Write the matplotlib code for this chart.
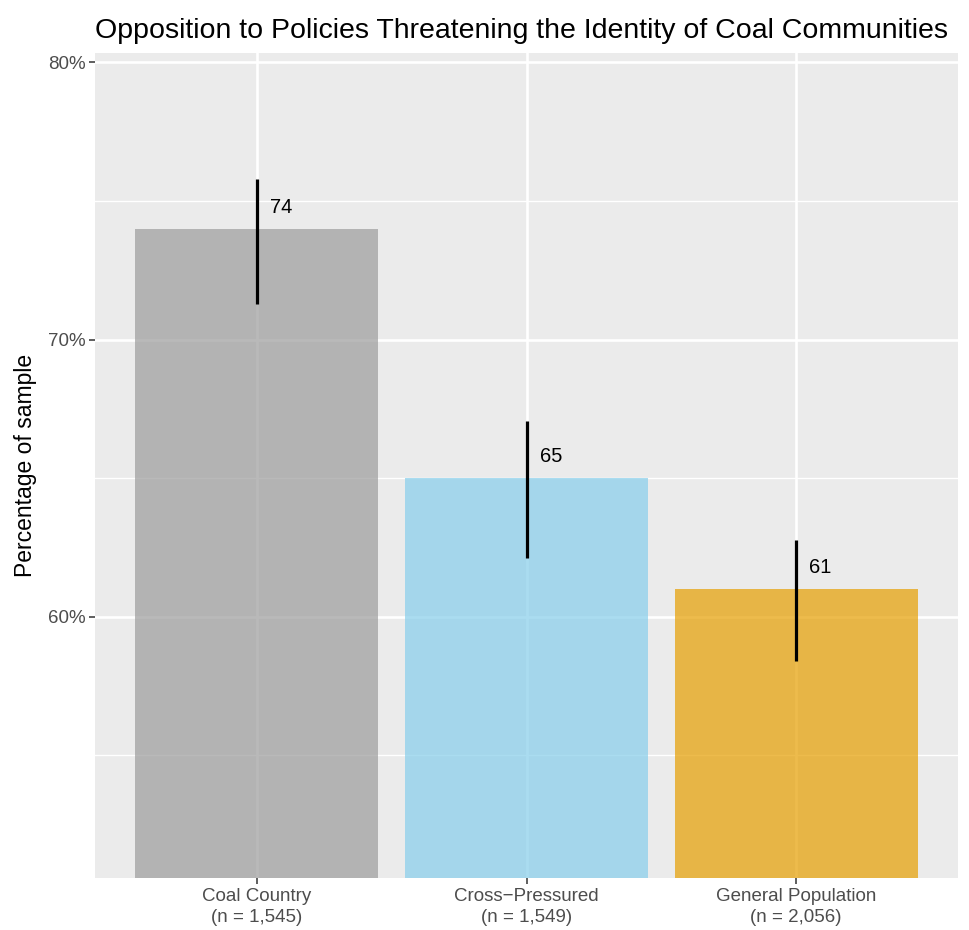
import numpy as np
import matplotlib
matplotlib.use("Agg")
import matplotlib.pyplot as plt

groups = ["Coal Country\n(n = 1,545)", "Cross\u2212Pressured\n(n = 1,549)", "General Population\n(n = 2,056)"]
pct = [74.0, 65.0, 61.0]
ci_low = [71.3, 62.1, 58.4]
ci_high = [75.8, 67.05, 62.75]
labels = ["74", "65", "61"]
colors = ["#9c9c9c", "#87ceeb", "#e69f00"]

plt.rcParams["font.family"] = ["Liberation Sans", "DejaVu Sans"]

fig = plt.figure(figsize=(9.69, 9.30), dpi=100)
ax = fig.add_axes([95 / 969, 1 - 878 / 930, (958 - 95) / 969, (878 - 53) / 930])
ax.set_facecolor("#ebebeb")

x = np.arange(1, len(groups) + 1)

# grid under bars (bars are semi transparent like in ggplot)
for v in [55, 65, 75]:
    ax.axhline(v, color="white", lw=1.0, zorder=0.5)
for v in [60, 70, 80]:
    ax.axhline(v, color="white", lw=1.9, zorder=0.5)
for xi in x:
    ax.axvline(xi, color="white", lw=1.9, zorder=0.5)

ax.bar(x, pct, width=0.9, color=colors, alpha=0.7, zorder=1)
ax.vlines(x, ci_low, ci_high, color="black", lw=2.3, zorder=2)
for xi, p, lab in zip(x, pct, labels):
    ax.text(xi + 0.09, p + 0.77, lab, ha="center", va="center", fontsize=14.5, color="black", zorder=3)

ax.set_xlim(0.4, 3.6)
ax.set_ylim(50.57, 80.34)
ax.set_yticks([60, 70, 80])
ax.set_yticklabels(["60%", "70%", "80%"])
ax.set_xticks(x)
ax.set_xticklabels(groups, linespacing=1.3)
ax.tick_params(axis="both", colors="#333333", length=4, width=1.1, labelsize=13.5, labelcolor="#4d4d4d", pad=3)
for s in ax.spines.values():
    s.set_visible(False)

ax.set_ylabel("Percentage of sample", fontsize=16.5, labelpad=8)
ax.set_title("Opposition to Policies Threatening the Identity of Coal Communities", loc="left", fontsize=20.5, pad=11)

fig.savefig("out.png", dpi=100)
